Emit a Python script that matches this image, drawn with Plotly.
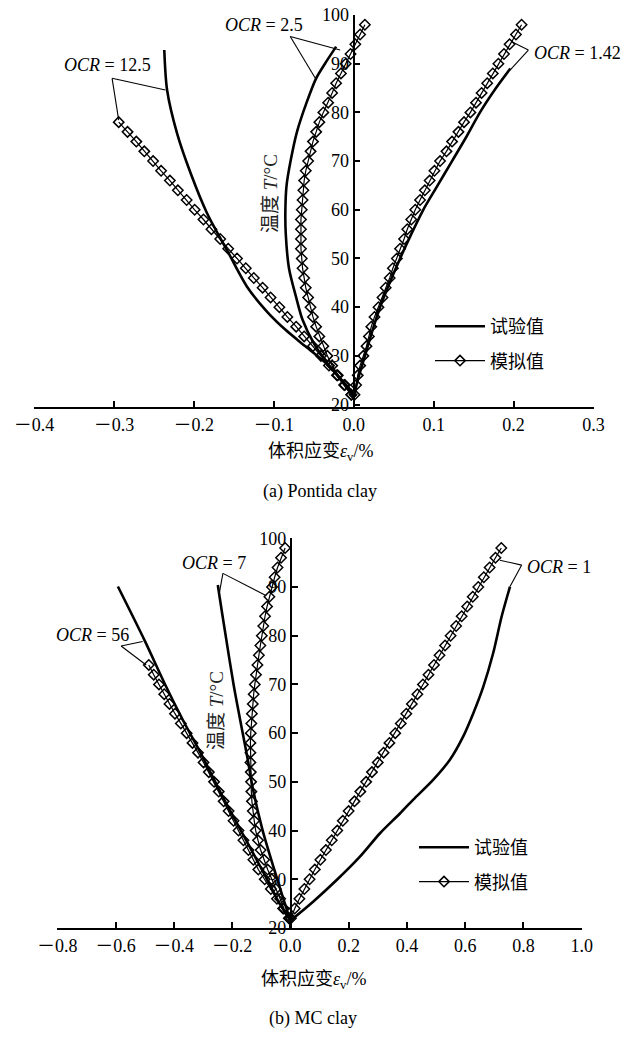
import plotly.graph_objects as go

W, H = 628, 1037

# ---------------- (a) Pontida clay ----------------
# simulated curves: temperature grid (°C) and volumetric strain (%)
T_sim_a = [22, 24, 26, 28, 30, 32, 34, 36, 38, 40, 42, 44, 46, 48, 50, 52, 54, 56, 58, 60,
           62, 64, 66, 68, 70, 72, 74, 76, 78, 80, 82, 84, 86, 88, 90, 92, 94, 96, 98]
sim_a_142 = [0.001, 0.003, 0.005, 0.008, 0.012, 0.016, 0.019, 0.022, 0.026, 0.031,
             0.036, 0.040, 0.045, 0.049, 0.054, 0.058, 0.063, 0.067, 0.072, 0.077,
             0.083, 0.089, 0.095, 0.101, 0.108, 0.116, 0.123, 0.131, 0.138, 0.146,
             0.153, 0.160, 0.167, 0.174, 0.181, 0.188, 0.195, 0.203, 0.210]
sim_a_25 = [-0.003, -0.011, -0.020, -0.027, -0.033, -0.038, -0.043, -0.047, -0.051, -0.054,
            -0.057, -0.060, -0.062, -0.064, -0.065, -0.066, -0.066, -0.066, -0.066, -0.065,
            -0.064, -0.063, -0.062, -0.060, -0.057, -0.054, -0.051, -0.047, -0.043, -0.038,
            -0.032, -0.027, -0.022, -0.016, -0.010, -0.004, 0.002, 0.008, 0.014]
T_sim_a_125 = [22, 24, 26, 28, 30, 32, 34, 36, 38, 40, 42, 44, 46, 48, 50, 52, 54, 56, 58, 60,
               62, 64, 66, 68, 70, 72, 74, 76, 78]
sim_a_125 = [-0.003, -0.012, -0.021, -0.031, -0.041, -0.051, -0.062, -0.072, -0.083, -0.093,
             -0.104, -0.114, -0.125, -0.135, -0.146, -0.157, -0.167, -0.178, -0.188, -0.199,
             -0.209, -0.220, -0.230, -0.241, -0.251, -0.262, -0.272, -0.283, -0.294]

# measured curves
T_exp_a_142 = [21.5, 25, 30, 35, 40, 45, 50, 55, 60, 65, 70, 75, 80, 85, 89]
exp_a_142 = [0.0, 0.005, 0.014, 0.023, 0.033, 0.045, 0.058, 0.072, 0.087, 0.105, 0.123,
             0.141, 0.158, 0.178, 0.196]
T_exp_a_25 = [21.5, 23, 25, 28.5, 32.6, 37.4, 42, 48, 55, 60, 65, 70, 76, 82, 87, 90, 93.5]
exp_a_25 = [0.0, -0.004, -0.015, -0.033, -0.050, -0.064, -0.072, -0.081, -0.085, -0.0855,
            -0.084, -0.079, -0.071, -0.059, -0.047, -0.036, -0.022]
T_exp_a_125 = [21.5, 23.7, 27.8, 31.9, 35.3, 39, 44.2, 51.7, 59.3, 67.5, 75.7, 84.6, 92.8]
exp_a_125 = [0.0, -0.009, -0.030, -0.060, -0.085, -0.108, -0.1335, -0.1585, -0.1835,
             -0.204, -0.221, -0.2335, -0.237]

# ---------------- (b) MC clay ----------------
T_sim_b = [22, 24, 26, 28, 30, 32, 34, 36, 38, 40, 42, 44, 46, 48, 50, 52, 54, 56, 58, 60,
           62, 64, 66, 68, 70, 72, 74, 76, 78, 80, 82, 84, 86, 88, 90, 92, 94, 96, 98]
sim_b_1 = [0.002, 0.015, 0.031, 0.048, 0.066, 0.084, 0.103, 0.122, 0.142, 0.161,
           0.180, 0.200, 0.220, 0.240, 0.260, 0.280, 0.300, 0.320, 0.340, 0.360,
           0.379, 0.398, 0.417, 0.436, 0.455, 0.474, 0.493, 0.512, 0.531, 0.550,
           0.569, 0.588, 0.607, 0.626, 0.645, 0.664, 0.684, 0.704, 0.724]
sim_b_7 = [-0.005, -0.022, -0.035, -0.050, -0.064, -0.078, -0.090, -0.102, -0.111, -0.119,
           -0.124, -0.129, -0.132, -0.134, -0.135, -0.136, -0.137, -0.137, -0.137, -0.136,
           -0.134, -0.132, -0.129, -0.126, -0.122, -0.118, -0.113, -0.108, -0.103, -0.098,
           -0.093, -0.087, -0.080, -0.072, -0.063, -0.054, -0.044, -0.032, -0.018]
T_sim_b_56 = [22, 24, 26, 28, 30, 32, 34, 36, 38, 40, 42, 44, 46, 48, 50, 52, 54, 56, 58, 60,
              62, 64, 66, 68, 70, 72, 74]
sim_b_56 = [-0.004, -0.025, -0.046, -0.067, -0.088, -0.110, -0.127, -0.144, -0.161, -0.178,
            -0.195, -0.212, -0.229, -0.246, -0.262, -0.280, -0.298, -0.317, -0.336, -0.356,
            -0.376, -0.396, -0.415, -0.433, -0.451, -0.469, -0.486]

T_exp_b_1 = [21.5, 25.4, 29.8, 34.6, 39.4, 43.5, 46.3, 50.4, 54.5, 59.3, 64.1, 69.5, 76.4, 83.9, 90.1]
exp_b_1 = [0.0, 0.078, 0.158, 0.238, 0.307, 0.376, 0.421, 0.490, 0.547, 0.593, 0.628,
           0.662, 0.696, 0.725, 0.754]
T_exp_b_7 = [21.5, 30, 40, 48.4, 54.5, 62, 70, 80, 88, 90.4]
exp_b_7 = [0.0, -0.045, -0.095, -0.128, -0.146, -0.170, -0.195, -0.222, -0.243, -0.249]
T_exp_b_56 = [21.5, 25, 30, 36.7, 46.9, 55, 62.7, 70, 79, 90.1]
exp_b_56 = [0.0, -0.037, -0.080, -0.140, -0.232, -0.300, -0.369, -0.430, -0.500, -0.592]

# tick values and labels (wide minus sign as printed)
xticks_a = [-0.4, -0.3, -0.2, -0.1, 0.0, 0.1, 0.2, 0.3]
xticks_b = [-0.8, -0.6, -0.4, -0.2, 0.0, 0.2, 0.4, 0.6, 0.8, 1.0]
yticks = [20, 30, 40, 50, 60, 70, 80, 90, 100]


def tick_text(vals):
    return [("\uff0d" if v < 0 else "") + f"{abs(v):.1f}" for v in vals]


SERIF = "Liberation Serif, Times New Roman, serif"
MIXED = "Liberation Serif, Noto Sans CJK SC, serif"
CJK = "Noto Sans CJK SC, sans-serif"

fig = go.Figure()


def add_exp(x, y, xa, ya, legend, show):
    fig.add_trace(go.Scatter(
        x=x, y=y, xaxis=xa, yaxis=ya, mode="lines", name="试验值",
        line=dict(color="black", width=2.6, shape="spline", smoothing=0.8),
        legend=legend, legendgroup="exp", showlegend=show, hoverinfo="skip"))


def add_sim(x, y, xa, ya, legend, show):
    fig.add_trace(go.Scatter(
        x=x, y=y, xaxis=xa, yaxis=ya, mode="lines+markers", name="模拟值",
        line=dict(color="black", width=1.2),
        marker=dict(symbol="diamond-open", size=8, color="black",
                    line=dict(color="black", width=1.5)),
        legend=legend, legendgroup="sim", showlegend=show, hoverinfo="skip"))


# panel (a)
add_exp(exp_a_142, T_exp_a_142, "x", "y", "legend", True)
add_exp(exp_a_25, T_exp_a_25, "x", "y", "legend", False)
add_exp(exp_a_125, T_exp_a_125, "x", "y", "legend", False)
add_sim(sim_a_142, T_sim_a, "x", "y", "legend", True)
add_sim(sim_a_25, T_sim_a, "x", "y", "legend", False)
add_sim(sim_a_125, T_sim_a_125, "x", "y", "legend", False)

# panel (b)
add_exp(exp_b_1, T_exp_b_1, "x2", "y2", "legend2", True)
add_exp(exp_b_7, T_exp_b_7, "x2", "y2", "legend2", False)
add_exp(exp_b_56, T_exp_b_56, "x2", "y2", "legend2", False)
add_sim(sim_b_1, T_sim_b, "x2", "y2", "legend2", True)
add_sim(sim_b_7, T_sim_b, "x2", "y2", "legend2", False)
add_sim(sim_b_56, T_sim_b_56, "x2", "y2", "legend2", False)

common_x = dict(showgrid=False, zeroline=False, showline=True, linecolor="black",
                linewidth=2, ticks="inside", ticklen=6, tickwidth=1.5, tickcolor="black",
                automargin=False,
                tickfont=dict(family=MIXED, size=18, color="black"))
common_y = dict(showgrid=False, zeroline=False, showline=True, linecolor="black",
                linewidth=1.6, ticks="inside", ticklen=6, tickwidth=1.5, tickcolor="black",
                anchor="free", tickvals=yticks, automargin=False,
                tickfont=dict(family=SERIF, size=18, color="black"))

legend_common = dict(xanchor="left", yanchor="top", bgcolor="rgba(0,0,0,0)",
                     font=dict(family=CJK, size=18, color="black"),
                     traceorder="grouped", tracegroupgap=8, itemwidth=50)

fig.update_layout(
    template="none",
    width=W, height=H, autosize=False,
    margin=dict(l=0, r=0, t=0, b=0, pad=0),
    paper_bgcolor="white", plot_bgcolor="white",
    font=dict(family=SERIF, color="black"),
    xaxis=dict(domain=[34 / W, 593.5 / W], range=[-0.4, 0.3], anchor="y",
               tickvals=xticks_a, ticktext=tick_text(xticks_a), **common_x),
    yaxis=dict(domain=[1 - 407 / H, 1 - 15 / H], range=[19.5, 100],
               position=353.5 / W, **common_y),
    xaxis2=dict(domain=[57.3 / W, 581.7 / W], range=[-0.8, 1.0], anchor="y2",
                tickvals=xticks_b, ticktext=tick_text(xticks_b), **common_x),
    yaxis2=dict(domain=[1 - 928 / H, 1 - 538.3 / H], range=[20, 100],
                position=290.7 / W, **common_y),
    legend=dict(x=430 / W, y=1 - 308 / H, **legend_common),
    legend2=dict(x=414 / W, y=1 - 829 / H, **legend_common),
    showlegend=True,
)

# OCR labels with leader lines (data coordinates of each panel)
ocr_labels = [
    ("x", "y", -0.3085, 89.7, "12.5", (-0.3023, 87.0), [(-0.2356, 84.6), (-0.294, 78.4)]),
    ("x", "y", -0.112, 97.9, "2.5", (-0.0794, 95.6), [(-0.017, 92.8), (-0.0469, 86.7)]),
    ("x", "y", 0.2806, 92.1, "1.42", (0.2185, 92.8), [(0.1978, 94.5), (0.1956, 88.7)]),
    ("x2", "y2", -0.263, 94.9, "7", (-0.2316, 92.8), [(-0.243, 89.0), (-0.0825, 88.2)]),
    ("x2", "y2", -0.680, 80.1, "56", (-0.581, 77.9), [(-0.507, 78.8), (-0.495, 74.0)]),
    ("x2", "y2", 0.922, 94.2, "1", (0.794, 94.5), [(0.719, 95.5), (0.754, 90.1)]),
]
for xr, yr, lx, ly, val, apex, ends in ocr_labels:
    fig.add_annotation(x=lx, y=ly, xref=xr, yref=yr, showarrow=False,
                       text="<i>OCR</i> = " + val, xanchor="center", yanchor="middle",
                       font=dict(family=SERIF, size=18, color="black"))
    for ex, ey in ends:
        fig.add_shape(type="line", xref=xr, yref=yr, x0=apex[0], y0=apex[1], x1=ex, y1=ey,
                      line=dict(color="black", width=1.1))

# y-axis titles placed inside each panel
for px, py in [(270, 194), (216, 711)]:
    fig.add_annotation(x=px / W, y=1 - py / H, xref="paper", yref="paper", showarrow=False,
                       text="温度 <i>T</i>/°C", textangle=-90, xanchor="center",
                       yanchor="middle", font=dict(family=MIXED, size=19, color="#222"))

# x-axis titles and captions
for px, py, txt, fam in [
    (320, 452, "体积应变<i>ε</i><sub>v</sub>/%", MIXED),
    (320, 491, "(a) Pontida clay", SERIF),
    (313, 980, "体积应变<i>ε</i><sub>v</sub>/%", MIXED),
    (313, 1018, "(b) MC clay", SERIF),
]:
    fig.add_annotation(x=px / W, y=1 - py / H, xref="paper", yref="paper", showarrow=False,
                       text=txt, xanchor="center", yanchor="middle",
                       font=dict(family=fam, size=18, color="black"))

fig.write_html("out.html")
